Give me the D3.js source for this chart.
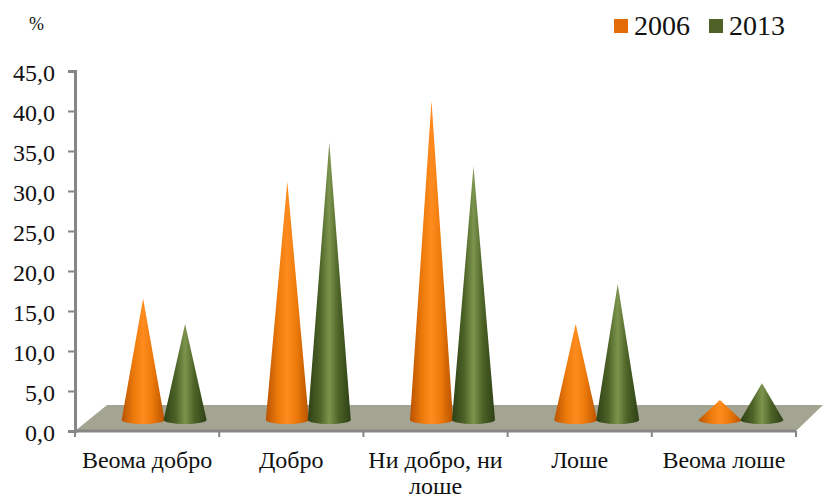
<!DOCTYPE html>
<html>
<head>
<meta charset="utf-8">
<script src="https://cdnjs.cloudflare.com/ajax/libs/d3/7.8.5/d3.min.js"></script>
<style>
html,body{margin:0;padding:0;background:#fff;}
svg{display:block;}
text{font-family:"Liberation Serif","Times New Roman",serif;fill:#111;}
</style>
</head>
<body>
<svg id="chart" width="823" height="500"></svg>
<script>
// Survey shares by answer, two survey years
const categories = [["Веома добро"], ["Добро"], ["Ни добро, ни", "лоше"], ["Лоше"], ["Веома лоше"]];
const categoryKeys = ["Веома добро", "Добро", "Ни добро, ни лоше", "Лоше", "Веома лоше"];
const seriesNames = ["2006", "2013"];
const values2006 = [15.2, 29.8, 39.9, 12.0, 2.5];
const values2013 = [12.0, 34.7, 31.7, 17.0, 4.6];
const yTicks = [0, 5, 10, 15, 20, 25, 30, 35, 40, 45];
const unitLabel = "%";

const swatchColors = ["#E36C09", "#4F6228"];
const coneStops = [0, 0.28, 0.5, 0.72, 1];
const coneRamps = [
  ["#B85200", "#EC7A0A", "#FF8B1E", "#EC7A0A", "#B85200"],
  ["#2E4016", "#4C6226", "#7D944E", "#4C6226", "#2E4016"]
];

const svg = d3.select("#chart");
const plotLeft = 75, plotRight = 796, plotTop = 71, plotBottom = 431;
const depth = 32, rise = 26;

const y = d3.scaleLinear().domain([0, 45]).range([plotBottom, plotTop]);
const x = d3.scaleBand().domain(categoryKeys).range([plotLeft, plotRight]);
const inner = d3.scaleBand().domain(seriesNames).range([0, 84]);

// Horizontal shading shared by every cone of a series
const defs = svg.append("defs");
coneRamps.forEach((ramp, i) => {
  const g = defs.append("linearGradient")
    .attr("id", "cone" + i)
    .attr("x1", 0).attr("x2", 1).attr("y1", 0).attr("y2", 0);
  ramp.forEach((c, k) => g.append("stop")
    .attr("offset", coneStops[k])
    .attr("stop-color", c));
});

// Floor of the 3D plot
svg.append("path")
  .attr("d", d3.line()([
    [plotLeft, plotBottom], [plotLeft + depth, plotBottom - rise],
    [plotRight + depth - 5, plotBottom - rise], [plotRight, plotBottom]
  ]) + "Z")
  .attr("fill", "#A4A492");

// Axis lines with outward ticks
const axisColor = "#868686";
const yAxis = svg.append("g")
  .attr("transform", `translate(${plotLeft},0)`)
  .call(d3.axisLeft(y).tickValues(yTicks).tickSize(7).tickPadding(13)
    .tickFormat(d => d3.format(".1f")(d).replace(".", ",")));
yAxis.selectAll("line").attr("stroke", axisColor).attr("stroke-width", 2);
yAxis.select(".domain").attr("stroke", axisColor).attr("stroke-width", 3);
yAxis.selectAll("text")
  .attr("font-size", 24)
  .attr("dy", "0.38em")
  .style("font-family", '"Liberation Serif",serif');

svg.append("line")
  .attr("x1", plotLeft).attr("x2", plotRight)
  .attr("y1", plotBottom).attr("y2", plotBottom)
  .attr("stroke", axisColor).attr("stroke-width", 3);

const xEdges = categoryKeys.map(c => x(c)).concat(plotRight);
svg.selectAll(".xtick").data(xEdges).join("line")
  .attr("class", "xtick")
  .attr("x1", d => d).attr("x2", d => d)
  .attr("y1", plotBottom).attr("y2", plotBottom + 6)
  .attr("stroke", axisColor).attr("stroke-width", 2);

// Category labels, wrapped over up to two lines
const labels = svg.selectAll(".cat").data(categories).join("text")
  .attr("class", "cat")
  .attr("text-anchor", "middle")
  .attr("font-size", 24);
labels.selectAll("tspan").data((d, i) => d.map(t => ({ t, i }))).join("tspan")
  .attr("x", d => x(categoryKeys[d.i]) + x.bandwidth() / 2)
  .attr("y", (d, k) => 468 + k * 26)
  .text(d => d.t);

// Cones: the apex sits at the value, lifted to the middle of the floor depth
const baseLift = 11, halfWidth = 21.5, ry = 4, arcK = 0.5523;
function conePath(cx, v) {
  const by = plotBottom - baseLift;
  const tip = y(v) - baseLift;
  const p = d3.path();
  p.moveTo(cx - halfWidth, by);
  p.lineTo(cx, tip);
  p.lineTo(cx + halfWidth, by);
  p.bezierCurveTo(cx + halfWidth, by + ry * arcK, cx + halfWidth * arcK, by + ry, cx, by + ry);
  p.bezierCurveTo(cx - halfWidth * arcK, by + ry, cx - halfWidth, by + ry * arcK, cx - halfWidth, by);
  p.closePath();
  return p.toString();
}
[values2006, values2013].forEach((vals, s) => {
  svg.append("g").selectAll("path").data(vals).join("path")
    .attr("d", (v, i) => conePath(
      x(categoryKeys[i]) + x.bandwidth() / 2 + 17 - 42 + inner(seriesNames[s]) + inner.bandwidth() / 2, v))
    .attr("fill", `url(#cone${s})`);
});

// Unit label and legend
svg.append("text").attr("x", 29).attr("y", 30).attr("font-size", 18).text(unitLabel);

const legendX = [614, 709];
seriesNames.forEach((name, i) => {
  svg.append("rect")
    .attr("x", legendX[i]).attr("y", 19)
    .attr("width", 14).attr("height", 14)
    .attr("fill", swatchColors[i]);
  svg.append("text")
    .attr("x", legendX[i] + 20).attr("y", 35)
    .attr("font-size", 28).text(name);
});
</script>
</body>
</html>
